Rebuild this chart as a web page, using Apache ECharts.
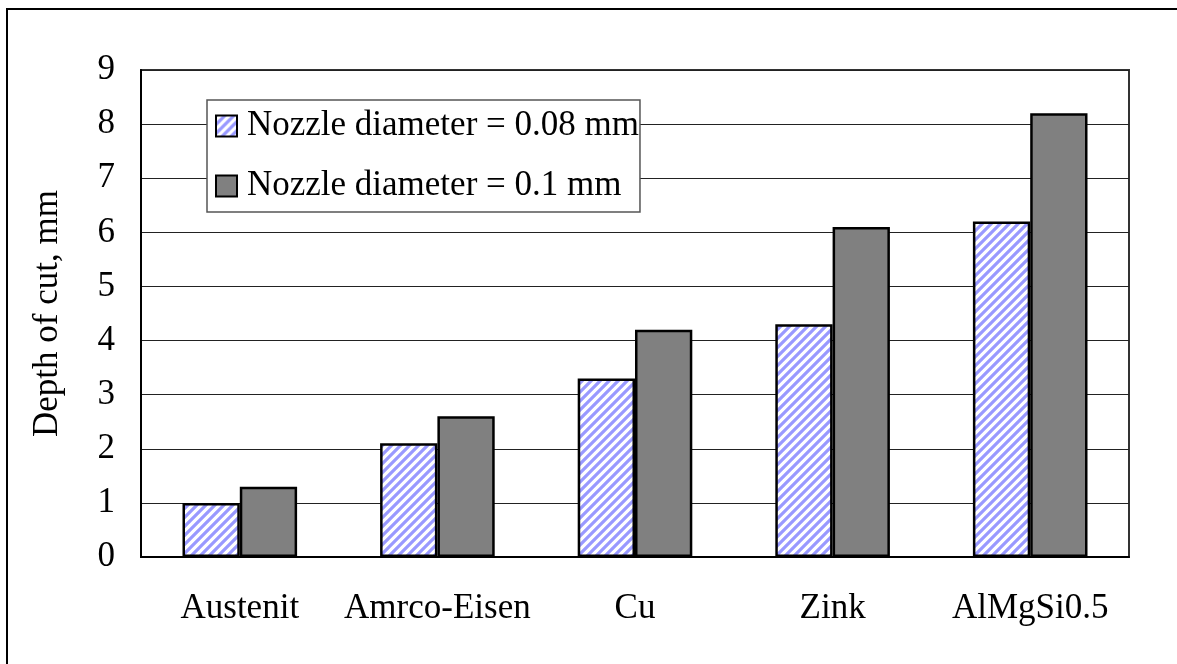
<!DOCTYPE html>
<html>
<head>
<meta charset="utf-8">
<script src="https://cdn.jsdelivr.net/npm/echarts@6/dist/echarts.min.js"></script>
<style>
  html, body { margin: 0; padding: 0; background: #fff; }
  #chart { position: absolute; left: 0; top: 0; width: 1177px; height: 664px; }
  #frame { position: absolute; left: 6px; top: 8px; width: 1200px; height: 700px; border-left: 2px solid #000; border-top: 2px solid #000; pointer-events: none; }
</style>
</head>
<body>
<div id="chart"></div>
<div id="frame"></div>
<script>
// Materials and measured cut depths (mm)
const categories = ['Austenit', 'Amrco-Eisen', 'Cu', 'Zink', 'AlMgSi0.5'];
const seriesNames = ['Nozzle diameter = 0.08 mm', 'Nozzle diameter = 0.1 mm'];
const depthNozzle008 = [1.0, 2.1, 3.3, 4.3, 6.2];
const depthNozzle01 = [1.3, 2.6, 4.2, 6.1, 8.2];
const yTicks = [0, 1, 2, 3, 4, 5, 6, 7, 8, 9];

// Diagonal blue/white hatch fill
function hatchPattern() {
  const s = 9;
  const c = document.createElement('canvas');
  c.width = s; c.height = s;
  const g = c.getContext('2d');
  g.fillStyle = '#ffffff';
  g.fillRect(0, 0, s, s);
  g.strokeStyle = '#9999ff';
  g.lineWidth = 3.2;
  g.beginPath();
  g.moveTo(-s, 2 * s); g.lineTo(2 * s, -s);
  g.moveTo(-2 * s, 2 * s); g.lineTo(s, -s);
  g.moveTo(0, 2 * s); g.lineTo(3 * s, -s);
  g.stroke();
  return c;
}

const font = '"Liberation Serif", "Times New Roman", serif';
const fs = 35;
const chart = echarts.init(document.getElementById('chart'), null, { renderer: 'canvas' });

chart.setOption({
  animation: false,
  backgroundColor: '#ffffff',
  textStyle: { fontFamily: font, color: '#000' },
  grid: {
    left: 141, right: 48, top: 70, bottom: 107,
    show: true, borderColor: '#333', borderWidth: 2, backgroundColor: 'transparent'
  },
  legend: {
    left: 207, top: 100,
    orient: 'vertical',
    data: seriesNames,
    icon: 'rect',
    itemWidth: 21, itemHeight: 21, itemGap: 24,
    padding: [8, 1, 8, 8],
    backgroundColor: '#fff',
    borderColor: '#555', borderWidth: 1.5,
    textStyle: { fontFamily: font, fontSize: fs, lineHeight: 36, color: '#000', padding: [0, 0, 0, 5] }
  },
  xAxis: {
    type: 'category',
    data: categories,
    axisLine: { lineStyle: { color: '#000', width: 2 } },
    axisTick: { show: false },
    axisLabel: { fontFamily: font, fontSize: fs, color: '#000', margin: 34, interval: 0 }
  },
  yAxis: {
    type: 'value',
    min: yTicks[0], max: yTicks[yTicks.length - 1], interval: 1,
    name: 'Depth of cut, mm',
    nameLocation: 'middle',
    nameGap: 76,
    nameRotate: 90,
    nameTextStyle: { fontFamily: font, fontSize: fs, color: '#000' },
    axisLine: { show: true, lineStyle: { color: '#000', width: 2 } },
    axisTick: { show: false },
    axisLabel: { fontFamily: font, fontSize: fs, color: '#000', margin: 26 },
    splitLine: { lineStyle: { color: '#222', width: 1 } }
  },
  series: [
    {
      name: seriesNames[0],
      type: 'bar',
      data: depthNozzle008,
      barGap: '0%',
      barCategoryGap: '42%',
      itemStyle: {
        color: { image: hatchPattern(), repeat: 'repeat' },
        borderColor: '#000', borderWidth: 2.5
      }
    },
    {
      name: seriesNames[1],
      type: 'bar',
      data: depthNozzle01,
      barGap: '0%',
      barCategoryGap: '42%',
      itemStyle: { color: '#808080', borderColor: '#000', borderWidth: 2.5 }
    }
  ]
});
</script>
</body>
</html>
